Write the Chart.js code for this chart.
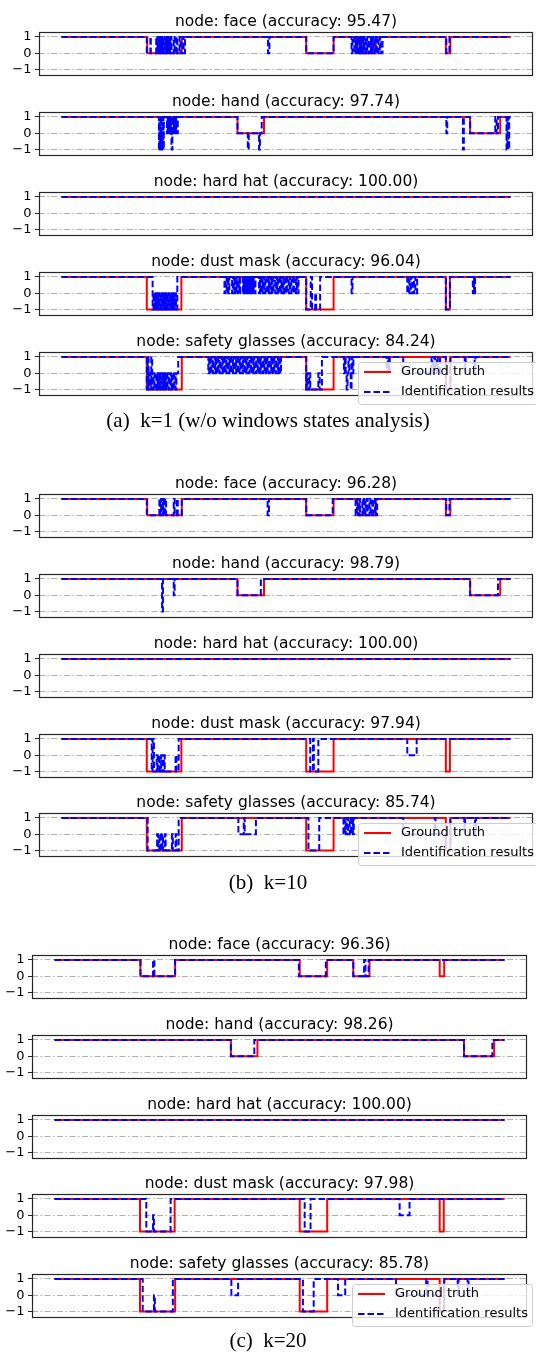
<!DOCTYPE html>
<html>
<head>
<meta charset="utf-8">
<script src="https://cdn.jsdelivr.net/npm/chart.js@4.4.1/dist/chart.umd.min.js"></script>
<style>
body { margin: 0; background: #fff; width: 536px; height: 1356px; position: relative; overflow: hidden; }
canvas { position: absolute; left: 0; }
.cap { position: absolute; left: 0; width: 536px; text-align: center; font-family: "Liberation Serif", serif; font-size: 21px; line-height: 24px; color: #000; }
</style>
</head>
<body>
<script>
var nodes = ['face', 'hand', 'hard hat', 'dust mask', 'safety glasses'];
var yTicks = [-1, 0, 1];
var yTickLabels = ['\u22121', '0', '1'];
var legendLabels = ['Ground truth', 'Identification results'];
var accK1 = [95.47, 97.74, 100.00, 96.04, 84.24];
var accK10 = [96.28, 98.79, 100.00, 97.94, 85.74];
var accK20 = [96.36, 98.26, 100.00, 97.98, 85.78];
var captions = ['(a)\u2002k=1 (w/o windows states analysis)', '(b)\u2002k=10', '(c)\u2002k=20'];

// each series: [frame, state] at every change of state
var faceTruth = [[0,1],[191,0],[268,1],[545,0],[606,1],[664,0],[700,1],[856,0],[866,1],[1000,1]];
var faceK1 = [[0,1],[190,0],[198,1],[199,0],[211,1],[212,0],[214,1],[215,0],[217,1],[218,0],[220,1],[221,0],[223,1],[224,0],[226,1],[227,0],[229,1],[230,0],[232,1],[233,0],[235,1],[236,0],[238,1],[239,0],[241,1],[242,0],[244,1],[245,0],[250,1],[252,0],[256,1],[258,0],[263,1],[265,0],[270,1],[272,0],[275,1],
  [460,0],[463,1],[545,0],[606,1],[646,0],[648,1],[652,0],[653,1],[655,0],[656,1],[658,0],[660,1],[662,0],[664,1],[665,0],[667,1],[668,0],[671,1],[672,0],[674,1],[675,0],[678,1],[679,0],[681,1],[684,0],[686,1],[689,0],[690,1],[692,0],[694,1],[695,0],[697,1],[700,0],[703,1],[706,0],[709,1],[712,0],[715,1],[857,0],[864,1],[1000,1]];
var faceK10 = [[0,1],[190,0],[218,1],[220,0],[222,1],[224,0],[226,1],[228,0],[231,1],[233,0],[250,1],[252,0],[257,1],[259,0],[268,1],[459,0],[462,1],[545,0],[604,1],
  [655,0],[658,1],[660,0],[663,1],[665,0],[670,1],[672,0],[675,1],[677,0],[680,1],[682,0],[686,1],[688,0],[692,1],[694,0],[698,1],[700,0],[703,1],[857,0],[864,1],[1000,1]];
var faceK20 = [[0,1],[191,0],[219,1],[222,0],[268,1],[543,0],[603,1],[664,0],[688,1],[691,0],[698,1],[1000,1]];

var handTruth = [[0,1],[392,0],[451,1],[910,0],[977,1],[1000,1]];
var handK1 = [[0,1],[217,-1],[218,1],[219,-1],[220,0],[221,-1],[222,1],[223,-1],[224,0],[225,-1],[226,1],[227,-1],[228,1],[235,0],[236,1],[237,0],[238,1],[239,0],[241,1],[242,0],[243,1],[244,0],[245,-1],[247,1],[249,0],[250,1],[251,0],[253,1],[254,0],[255,1],[257,0],[259,1],
  [392,0],[415,-1],[417,0],[440,-1],[442,0],[446,1],[857,0],[859,1],[894,-1],[896,1],[910,0],[966,1],[969,0],[972,1],[991,-1],[993,1],[995,-1],[997,1],[1000,1]];
var handK10 = [[0,1],[224,-1],[226,1],[250,0],[252,1],[392,0],[444,1],[910,0],[972,1],[1000,1]];
var handK20 = [[0,1],[392,0],[444,1],[910,0],[973,1],[1000,1]];

var hardHatTruth = [[0,1],[1000,1]];
var hardHatK1 = [[0,1],[1000,1]];
var hardHatK10 = [[0,1],[1000,1]];
var hardHatK20 = [[0,1],[1000,1]];

var dustTruth = [[0,1],[190,-1],[267,1],[545,-1],[606,1],[856,-1],[865,1],[1000,1]];
var dustK1 = [[0,1],[203,-1],[205,0],[207,-1],[209,0],[210,-1],[212,0],[213,-1],[215,0],[216,-1],[218,0],[219,-1],[221,0],[222,-1],[224,0],[225,-1],[227,0],[228,-1],[230,0],[231,-1],[233,0],[234,-1],[236,0],[237,-1],[239,0],[240,-1],[242,0],[243,-1],[245,0],[246,-1],[248,0],[249,-1],[251,0],[252,-1],[254,0],[255,-1],[258,1],
  [363,0],[365,1],[368,0],[370,1],[372,0],[374,1],[380,0],[382,1],[384,0],[386,1],[388,0],[390,1],[392,0],[394,1],[396,0],[398,1],[404,0],[405,1],[406,0],[407,1],[408,0],[409,1],[410,0],[411,1],[412,0],[413,1],[414,0],[415,1],[416,0],[417,1],[418,0],[419,1],[420,0],[421,1],[422,0],[423,1],[424,0],[425,1],[426,0],[428,1],[430,0],[432,1],
  [440,0],[442,1],[444,0],[446,1],[448,0],[450,1],[452,0],[454,1],[458,0],[460,1],[462,0],[464,1],[466,0],[468,1],[470,0],[472,1],[476,0],[478,1],[480,0],[482,1],[486,0],[488,1],[490,0],[492,1],[494,0],[496,1],[500,0],[502,1],[506,0],[508,1],[510,0],[512,1],[516,0],[518,1],[522,0],[524,1],[526,0],[528,1],
  [545,-1],[555,1],[558,-1],[565,0],[567,-1],[576,1],[646,0],[648,1],[770,0],[773,1],[775,0],[778,1],[781,0],[785,1],[788,0],[792,1],[856,-1],[865,1],[916,0],[918,1],[919,0],[921,1],[1000,1]];
var dustK10 = [[0,1],[201,-1],[203,1],[206,-1],[212,0],[214,-1],[217,0],[219,-1],[222,0],[224,-1],[228,0],[230,-1],[254,0],[256,-1],[261,1],[554,-1],[560,1],[562,-1],[572,1],[770,0],[791,1],[1000,1]];
var dustK20 = [[0,1],[204,-1],[219,0],[221,-1],[258,1],[556,-1],[569,1],[767,0],[789,1],[1000,1]];

var safetyTruth = [[0,1],[190,-1],[268,1],[545,-1],[606,1],[856,-1],[866,1],[1000,1]];
var safetyK1 = [[0,1],[190,-1],[192,1],[194,-1],[196,0],[198,-1],[200,1],[202,-1],[205,0],[207,-1],[211,0],[213,-1],[214,0],[216,-1],[217,0],[219,-1],[220,0],[222,-1],[223,0],[225,-1],[226,0],[228,-1],[229,0],[231,-1],[232,0],[234,-1],[236,0],[239,-1],[241,0],[244,-1],[246,0],[249,-1],[251,0],[254,-1],[256,0],[260,1],
  [327,0],[329,1],[332,0],[334,1],[337,0],[339,1],[342,0],[344,1],[347,0],[349,1],[352,0],[354,1],[357,0],[359,1],[362,0],[364,1],[367,0],[369,1],[372,0],[374,1],[377,0],[379,1],[382,0],[384,1],[387,0],[389,1],[392,0],[394,1],[397,0],[399,1],[402,0],[404,1],
  [407,0],[409,1],[412,0],[414,1],[417,0],[419,1],[422,0],[424,1],[427,0],[429,1],[432,0],[434,1],[437,0],[439,1],[442,0],[444,1],[447,0],[449,1],[452,0],[454,1],[457,0],[459,1],[462,0],[464,1],[467,0],[469,1],[472,0],[474,1],[477,0],[479,1],[482,0],[484,1],[487,0],[489,1],
  [545,-1],[547,0],[549,-1],[552,0],[554,-1],[572,0],[575,-1],[580,1],[629,0],[631,1],[633,0],[635,-1],[637,0],[639,1],[641,0],[644,-1],[646,1],[648,0],[650,1],
  [724,0],[727,1],[729,0],[731,1],[761,0],[824,1],[826,0],[830,1],[832,0],[836,1],[838,0],[843,1],[856,-1],[866,1],[898,0],[900,1],[920,0],[922,1],[1000,1]];
var safetyK10 = [[0,1],[192,-1],[213,0],[215,-1],[218,0],[220,-1],[224,0],[226,-1],[230,0],[232,-1],[246,0],[248,-1],[254,0],[256,-1],[261,1],[394,0],[406,1],[408,0],[433,1],[550,-1],[574,1],
  [628,0],[631,1],[633,0],[636,1],[638,0],[642,1],[644,0],[647,1],[649,0],[651,1],[761,0],[831,1],[833,0],[856,-1],[866,1],[897,0],[899,1],[921,0],[923,1],[1000,1]];
var safetyK20 = [[0,1],[196,-1],[221,0],[223,-1],[263,1],[393,0],[408,1],[552,-1],[576,1],[630,0],[646,1],[759,0],[826,1],[829,0],[856,-1],[866,1],[896,0],[898,1],[918,0],[920,1],[1000,1]];

var truthSets = [faceTruth, handTruth, hardHatTruth, dustTruth, safetyTruth];
var resultSets = [
  [faceK1, handK1, hardHatK1, dustK1, safetyK1],
  [faceK10, handK10, hardHatK10, dustK10, safetyK10],
  [faceK20, handK20, hardHatK20, dustK20, safetyK20]
];
var accSets = [accK1, accK10, accK20];

// layout of the three panels
var boxTops = [[32, 112, 192, 272, 352], [494, 574, 654, 734, 813], [955, 1035, 1115, 1194, 1274]];
var boxLeft = [39, 39, 32];
var boxRight = [533, 533, 527];
var captionTop = [408, 870, 1328];
var BOX_H = 42.5, HEAD = 26;
var LINE_W = 2, DASH = [6.5, 3];

function toPoints(list) {
  return list.map(function(p) { return {x: p[0], y: p[1]}; });
}

var framePlugin = {
  id: 'frame',
  afterDraw: function(chart, args, opts) {
    var ctx = chart.ctx, a = chart.chartArea;
    ctx.save();
    ctx.fillStyle = '#000';
    ctx.font = '15.5px "DejaVu Sans"';
    ctx.textAlign = 'center';
    ctx.textBaseline = 'alphabetic';
    ctx.fillText(opts.title, (a.left + a.right) / 2, a.top - 6);

    ctx.strokeStyle = '#262626';
    ctx.lineWidth = 1.2;
    ctx.strokeRect(Math.round(a.left) + 0.5, Math.round(a.top) + 0.5, Math.round(a.right - a.left) - 1, Math.round(a.bottom - a.top));

    if (opts.legend) {
      var lx = a.right - 175, ly = a.top + 10, lw = 180, lh = 42;
      ctx.lineWidth = 1;
      ctx.beginPath();
      ctx.roundRect(lx + 0.5, ly + 0.5, lw, lh, 3);
      ctx.fillStyle = 'rgba(255,255,255,0.8)';
      ctx.fill();
      ctx.strokeStyle = '#cccccc';
      ctx.stroke();

      ctx.lineWidth = LINE_W;
      ctx.strokeStyle = '#ff0000';
      ctx.beginPath();
      ctx.moveTo(lx + 6, ly + 10);
      ctx.lineTo(lx + 33, ly + 10);
      ctx.stroke();
      ctx.strokeStyle = '#0000ff';
      ctx.setLineDash(DASH);
      ctx.beginPath();
      ctx.moveTo(lx + 6, ly + 30);
      ctx.lineTo(lx + 33, ly + 30);
      ctx.stroke();
      ctx.setLineDash([]);

      ctx.fillStyle = '#000';
      ctx.font = '13px "DejaVu Sans"';
      ctx.textAlign = 'left';
      ctx.textBaseline = 'middle';
      ctx.fillText(legendLabels[0], lx + 43, ly + 10);
      ctx.fillText(legendLabels[1], lx + 43, ly + 30);
    }
    ctx.restore();
  }
};

function makeChart(g, n) {
  var extra = n === 4 ? 16 : 2;
  var cv = document.createElement('canvas');
  var h = Math.ceil(HEAD + BOX_H + extra);
  cv.width = 536;
  cv.height = h;
  cv.style.top = (boxTops[g][n] - HEAD) + 'px';
  document.body.appendChild(cv);

  new Chart(cv, {
    type: 'line',
    data: {
      datasets: [
        { label: legendLabels[1], data: toPoints(resultSets[g][n]), borderColor: '#0000ff', borderWidth: LINE_W,
          borderDash: DASH, stepped: true, pointRadius: 0, fill: false },
        { label: legendLabels[0], data: toPoints(truthSets[n]), borderColor: '#ff0000', borderWidth: LINE_W,
          stepped: true, pointRadius: 0, fill: false }
      ]
    },
    options: {
      responsive: false,
      animation: false,
      devicePixelRatio: 1,
      layout: { padding: { left: 0, right: 536 - boxRight[g], top: HEAD, bottom: h - HEAD - BOX_H } },
      plugins: {
        legend: { display: false },
        tooltip: { enabled: false },
        frame: { title: 'node: ' + nodes[n] + ' (accuracy: ' + accSets[g][n].toFixed(2) + ')', legend: n === 4 }
      },
      scales: {
        x: { type: 'linear', min: -50, max: 1050, display: false },
        y: {
          min: -1.3, max: 1.3,
          afterBuildTicks: function(s) { s.ticks = yTicks.map(function(v) { return {value: v}; }); },
          afterFit: function(s) { s.width = boxLeft[g]; s.paddingTop = 0; s.paddingBottom = 0; },
          ticks: {
            callback: function(v, i) { return yTickLabels[i]; },
            font: { family: 'DejaVu Sans', size: 13 },
            color: '#000',
            padding: 3.5
          },
          grid: { color: '#b0b0b0', lineWidth: 1, drawTicks: true, tickLength: 4, tickColor: '#262626', tickWidth: 1 },
          border: { display: false, dash: [6, 2.5, 1.5, 2.5] }
        }
      }
    },
    plugins: [framePlugin]
  });
}

for (var g = 0; g < 3; g++) {
  for (var n = 0; n < 5; n++) makeChart(g, n);
  var cap = document.createElement('div');
  cap.className = 'cap';
  cap.style.top = captionTop[g] + 'px';
  cap.textContent = captions[g];
  document.body.appendChild(cap);
}
</script>
</body>
</html>
